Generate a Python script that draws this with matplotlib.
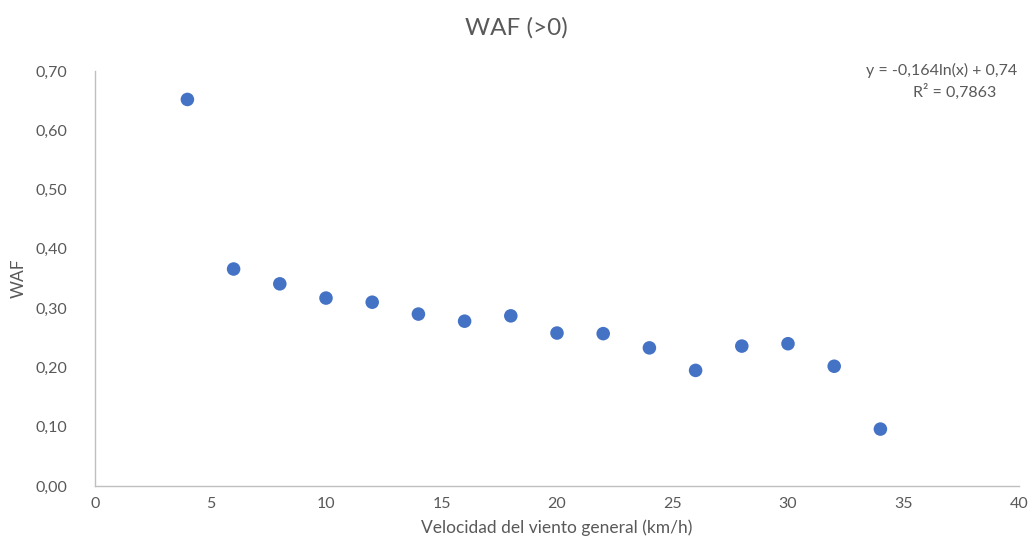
import matplotlib.pyplot as plt

# DATA
velocidad = [4, 6, 8, 10, 12, 14, 16, 18, 20, 22, 24, 26, 28, 30, 32, 34]
waf = [0.652, 0.366, 0.341, 0.317, 0.310, 0.290, 0.278, 0.287,
       0.258, 0.257, 0.233, 0.195, 0.236, 0.240, 0.202, 0.096]
x_ticks = [0, 5, 10, 15, 20, 25, 30, 35, 40]
y_ticks = [0.0, 0.1, 0.2, 0.3, 0.4, 0.5, 0.6, 0.7]
trend_eq = "y = -0,164ln(x) + 0,74"
trend_r2 = "R² = 0,7863"

# STYLE
TEXT = '#595959'
AXIS = '#bfbfbf'
plt.rcParams['font.family'] = ['Lato', 'DejaVu Sans']

fig = plt.figure(figsize=(10.33, 5.58), dpi=100)
ax = fig.add_axes([95 / 1033, 72 / 558, 924 / 1033, 415 / 558])

ax.scatter(velocidad, waf, s=95, color='#4472C4', edgecolors='none', zorder=3)

ax.set_xlim(0, 40)
ax.set_ylim(0, 0.7)
ax.set_xticks(x_ticks)
ax.set_yticks(y_ticks)
ax.set_yticklabels([f"{v:.2f}".replace('.', ',') for v in y_ticks])
ax.tick_params(length=0, colors=TEXT, labelsize=11.5, pad=8)
ax.tick_params(axis='y', pad=20)

for side in ('top', 'right'):
    ax.spines[side].set_visible(False)
for side in ('left', 'bottom'):
    ax.spines[side].set_color(AXIS)
    ax.spines[side].set_linewidth(1)

ax.set_xlabel("Velocidad del viento general (km/h)", color=TEXT, fontsize=12.5, labelpad=6)
ax.set_ylabel("WAF", color=TEXT, fontsize=12.5, labelpad=6)
fig.text(0.5, 1 - 28 / 558, "WAF (>0)", ha='center', va='center', color=TEXT, fontsize=17.5)

# trendline label (the reference cuts it at the right edge)
fig.text(866 / 1033, 1 - 70 / 558, trend_eq, ha='left', va='center',
         color=TEXT, fontsize=11.5)
fig.text(955 / 1033, 1 - 92 / 558, trend_r2, ha='center', va='center',
         color=TEXT, fontsize=11.5)

fig.savefig('out.png', dpi=100)
